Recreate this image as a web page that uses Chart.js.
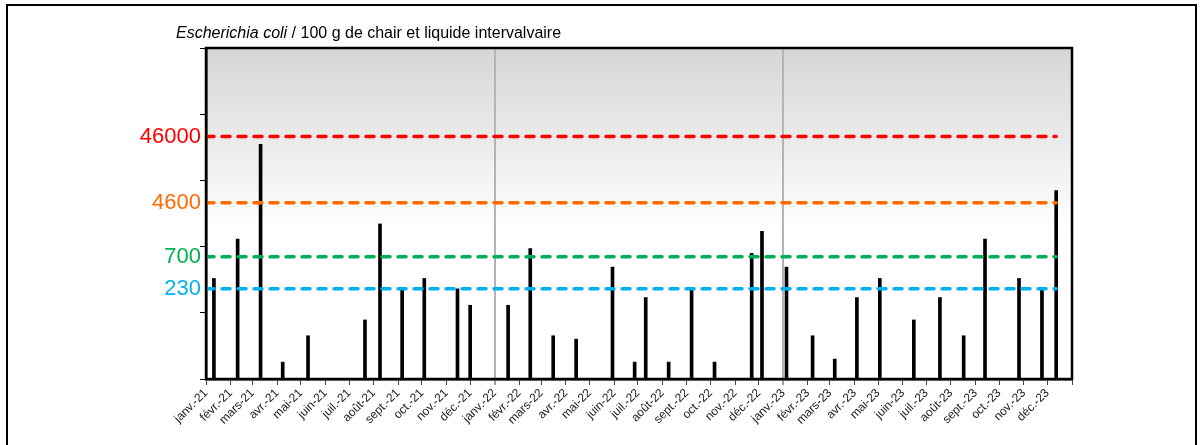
<!DOCTYPE html>
<html lang="fr">
<head>
<meta charset="utf-8">
<script src="https://cdn.jsdelivr.net/npm/chart.js@4/dist/chart.umd.min.js"></script>
<style>
  body { margin: 0; background: #fff; }
  #wrap { position: relative; width: 1200px; height: 445px; overflow: hidden; }
  #cadre { position: absolute; left: 6px; top: 4px; width: 1191px; height: 500px; border: 2px solid #000; box-sizing: border-box; }
  #titre { position: absolute; left: 176px; top: 24px; font: 16px Arial, 'Liberation Sans', sans-serif; line-height: 18px; color: #000; white-space: nowrap; }
  canvas { position: absolute; left: 0; top: 0; }
</style>
</head>
<body>
<div id="wrap">
  <div id="cadre"></div>
  <canvas id="ecoliChart" width="1200" height="445"></canvas>
  <div id="titre"><i>Escherichia coli</i> / 100 g de chair et liquide intervalvaire</div>
</div>
<script>
// Dates de prélèvement et résultats (E. coli / 100 g)
const sampleDates = [
  '2021-01-11', '2021-02-10', '2021-03-11', '2021-04-08', '2021-05-10', '2021-07-21',
  '2021-08-09', '2021-09-06', '2021-10-04', '2021-11-15', '2021-12-01',
  '2022-01-18', '2022-02-15', '2022-03-16', '2022-04-14', '2022-05-30', '2022-06-27',
  '2022-07-11', '2022-08-09', '2022-09-07', '2022-10-06', '2022-11-22', '2022-12-05',
  '2023-01-05', '2023-02-07', '2023-03-07', '2023-04-04', '2023-05-03', '2023-06-15',
  '2023-07-18', '2023-08-17', '2023-09-13', '2023-10-26', '2023-11-24', '2023-12-12'
];
const ecoliValues = [
  330, 1300, 35000, 18, 45, 78,
  2200, 220, 330, 230, 130,
  130, 930, 45, 40, 490, 18,
  170, 18, 220, 18, 790, 1700,
  490, 45, 20, 170, 330, 78,
  170, 45, 1300, 330, 220, 7000
];

// Seuils réglementaires
const thresholdValues = [46000, 4600, 700, 230];
const thresholdColors = ['#ff0000', '#ff6a00', '#00b050', '#00b0f0'];

// Axe des temps
const monthNames = ['janv.', 'févr.', 'mars', 'avr.', 'mai', 'juin', 'juil.', 'août', 'sept.', 'oct.', 'nov.', 'déc.'];
const years = [2021, 2022, 2023];
const decadeTicks = [10, 100, 1000, 10000, 100000, 1000000];

const origin = Date.UTC(2021, 0, 1);
const dayOf = s => {
  const p = s.split('-').map(Number);
  return (Date.UTC(p[0], p[1] - 1, p[2]) - origin) / 86400000;
};

const monthTicks = [];
const monthLabels = [];
years.forEach(y => {
  monthNames.forEach((m, i) => {
    monthTicks.push((Date.UTC(y, i, 1) - origin) / 86400000);
    monthLabels.push(m + '-' + String(y).slice(2));
  });
});
const xEnd = (Date.UTC(2024, 0, 1) - origin) / 86400000;
monthTicks.push(xEnd);
monthLabels.push('');
const yearLines = [1, 2].map(i => (Date.UTC(2021 + i, 0, 1) - origin) / 86400000);

const lastDay = dayOf(sampleDates[sampleDates.length - 1]);
const points = sampleDates.map((d, i) => ({ x: dayOf(d), y: ecoliValues[i] }));

const thresholdSets = thresholdValues.map((v, i) => ({
  type: 'line',
  data: [{ x: 0, y: v }, { x: lastDay, y: v }],
  borderColor: thresholdColors[i],
  borderWidth: 3.5,
  borderDash: [8, 8],
  borderCapStyle: 'round',
  pointRadius: 0,
  fill: false,
  order: 0
}));

// Fond dégradé + cadre de la zone de tracé
const plotFrame = {
  id: 'plotFrame',
  beforeDraw(chart) {
    const a = chart.chartArea;
    const ctx = chart.ctx;
    const g = ctx.createLinearGradient(0, a.top, 0, a.bottom);
    g.addColorStop(0, '#d6d6d6');
    g.addColorStop(0.55, '#ffffff');
    g.addColorStop(1, '#ffffff');
    ctx.save();
    ctx.fillStyle = g;
    ctx.fillRect(a.left, a.top, a.right - a.left, a.bottom - a.top);
    ctx.restore();
  },
  afterDraw(chart) {
    const a = chart.chartArea;
    const ctx = chart.ctx;
    ctx.save();
    ctx.strokeStyle = '#000';
    ctx.lineWidth = 2.5;
    ctx.strokeRect(a.left, a.top, a.right - a.left, a.bottom - a.top);
    ctx.restore();
  }
};

const ctx = document.getElementById('ecoliChart').getContext('2d');
new Chart(ctx, {
  type: 'bar',
  data: {
    datasets: [{
      data: points,
      backgroundColor: '#000',
      barThickness: 3,
      order: 1
    }].concat(thresholdSets)
  },
  options: {
    responsive: false,
    animation: false,
    layout: { padding: { left: 131, right: 128, top: 48, bottom: 6 } },
    plugins: { legend: { display: false }, tooltip: { enabled: false } },
    scales: {
      x: {
        type: 'linear',
        min: 0,
        max: xEnd,
        offset: false,
        afterBuildTicks: s => { s.ticks = monthTicks.map(v => ({ value: v })); },
        afterFit: s => { s.height = 60; },
        ticks: {
          autoSkip: false,
          minRotation: 45,
          maxRotation: 45,
          padding: 1,
          color: '#222',
          font: { family: "Arial, 'Liberation Sans', sans-serif", size: 12 },
          callback: (v, i) => monthLabels[i]
        },
        grid: {
          offset: false,
          drawOnChartArea: true,
          color: c => (c.tick && yearLines.includes(c.tick.value)) ? '#b4b4b4' : 'rgba(0,0,0,0)',
          lineWidth: c => (c.tick && yearLines.includes(c.tick.value)) ? 2 : 1,
          tickColor: '#444',
          tickWidth: 1,
          tickLength: 6
        },
        border: { color: '#000', width: 2.5 }
      },
      y: {
        type: 'logarithmic',
        min: 10,
        max: 1000000,
        position: 'left',
        weight: 0,
        afterBuildTicks: s => { s.ticks = decadeTicks.map(v => ({ value: v })); },
        afterFit: s => { s.width = 5; },
        ticks: { display: false },
        grid: { drawOnChartArea: false, tickLength: 6, tickColor: '#000', tickWidth: 1 },
        border: { color: '#000', width: 2.5 }
      },
      y2: {
        type: 'logarithmic',
        min: 10,
        max: 1000000,
        position: 'left',
        weight: 1,
        afterBuildTicks: s => { s.ticks = thresholdValues.map(v => ({ value: v })); },
        afterFit: s => { s.width = 70; },
        ticks: {
          padding: 0,
          color: c => thresholdColors[c.index],
          font: { family: "Arial, 'Liberation Sans', sans-serif", size: 22 },
          callback: v => String(v)
        },
        grid: { display: false, drawTicks: false },
        border: { display: false }
      }
    }
  },
  plugins: [plotFrame]
});
</script>
</body>
</html>
